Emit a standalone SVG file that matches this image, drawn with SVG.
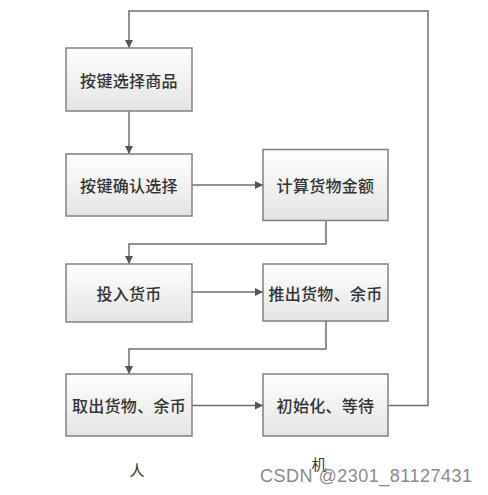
<svg xmlns="http://www.w3.org/2000/svg" width="488" height="495" viewBox="0 0 488 495">
<defs>
<linearGradient id="g" x1="0" y1="0" x2="0" y2="1">
<stop offset="0" stop-color="#ffffff"/>
<stop offset="1" stop-color="#e4e4e4"/>
</linearGradient>
<marker id="arr" viewBox="0 0 10 10" refX="10" refY="5" markerWidth="8" markerHeight="8" markerUnits="userSpaceOnUse" orient="auto">
<path d="M0,0 L10,5 L0,10 z" fill="#555"/>
</marker>
<style>
.box{fill:url(#g);stroke:#808080;stroke-width:1.5}
.t{font-family:"Noto Sans CJK SC","Noto Sans",sans-serif;font-size:16px;font-weight:500;fill:#333;text-anchor:middle;dominant-baseline:central;letter-spacing:0.3px}
.c{fill:none;stroke:#6e6e6e;stroke-width:1.5}
.lbl{font-family:"Noto Sans CJK SC",sans-serif;font-size:15px;fill:#333;text-anchor:middle;dominant-baseline:central}
.wm{font-family:"Liberation Sans",Arial,sans-serif;font-size:18px;fill:#8a8a8a}
</style>
</defs>
<rect width="488" height="495" fill="#fff"/>
<g id="connectors">
<path class="c" d="M129,111 V154" marker-end="url(#arr)"/>
<path class="c" d="M192,185 H263" marker-end="url(#arr)"/>
<path class="c" d="M326,221 V244 H129 V264" marker-end="url(#arr)"/>
<path class="c" d="M192,292 H263" marker-end="url(#arr)"/>
<path class="c" d="M326,321 V349 H129 V374" marker-end="url(#arr)"/>
<path class="c" d="M192,405.5 H263" marker-end="url(#arr)"/>
<path class="c" d="M388,405.5 H428 V11 H129 V48" marker-end="url(#arr)"/>
</g>
<g id="n1"><rect class="box" x="66" y="48" width="126" height="63"/><text class="t" x="129" y="79.5">按键选择商品</text></g>
<g id="n2"><rect class="box" x="66" y="154" width="126" height="62"/><text class="t" x="129" y="185">按键确认选择</text></g>
<g id="n3"><rect class="box" x="263" y="149.5" width="125" height="71"/><text class="t" x="325.5" y="185">计算货物金额</text></g>
<g id="n4"><rect class="box" x="66" y="264" width="126" height="58"/><text class="t" x="129" y="293">投入货币</text></g>
<g id="n5"><rect class="box" x="263" y="264" width="125" height="57"/><text class="t" x="325.5" y="292.5">推出货物、余币</text></g>
<g id="n6"><rect class="box" x="66" y="374" width="126" height="62"/><text class="t" x="129" y="405">取出货物、余币</text></g>
<g id="n7"><rect class="box" x="263" y="374" width="125" height="62"/><text class="t" x="325.5" y="405">初始化、等待</text></g>
<text class="lbl" x="137" y="469">人</text>
<text class="lbl" x="319" y="463" font-size="12">机</text>
<text class="wm" x="260" y="482" textLength="212">CSDN @2301_81127431</text>
</svg>
